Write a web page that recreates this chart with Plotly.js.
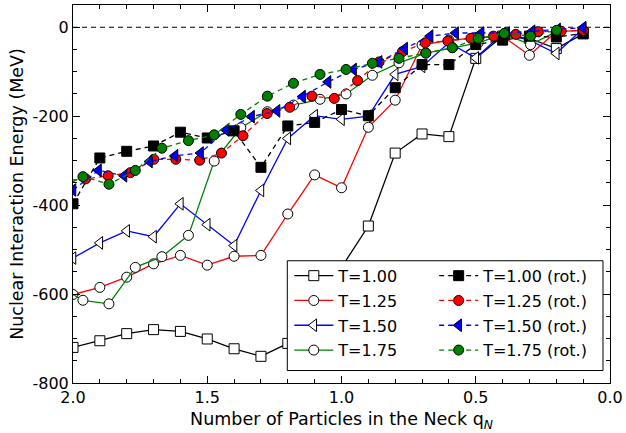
<!DOCTYPE html>
<html>
<head>
<meta charset="utf-8">
<script src="https://cdn.plot.ly/plotly-3.0.1.min.js"></script>
<style>html,body{margin:0;padding:0;background:#fff;}#chart{width:626px;height:433px;}</style>
</head>
<body>
<div id="chart"></div>
<script>
// ---- data ----
const qBase = [2.0,1.9,1.8,1.7,1.6,1.5,1.4,1.3,1.2,1.1,1.0,0.9,0.8,0.7,0.6,0.5,0.4,0.3,0.2,0.1];
const qGreen = [2.06,1.963,1.866,1.768,1.669,1.570,1.474,1.375,1.276,1.179,1.080,0.983,0.885,0.786,0.686,0.587,0.491,0.394,0.296,0.199];
const qRedRot = [2.037,1.953,1.869,1.786,1.699,1.617,1.528,1.447,1.367,1.277,1.193,1.110,1.027,0.940,0.860,0.773,0.688,0.604,0.518,0.434,0.351,0.267,0.182,0.099];
const qBlueRot = [2.0,1.905,1.81,1.715,1.62,1.525,1.43,1.335,1.24,1.145,1.05,0.955,0.86,0.765,0.67,0.575,0.48,0.385,0.29,0.195,0.1];

const t100    = [-720,-705,-689,-680,-684,-701,-723,-740,-711,-640,-540,-447,-283,-240,-246,-70,-20,-25,-48,-15];
const t100rot = [-397,-294,-279,-267,-236,-249,-233,-315,-222,-214,-185,-199,-136,-84,-84,-39,-29,-20,-22,-14];
const t125    = [-601,-585,-562,-532,-513,-535,-515,-513,-420,-332,-361,-225,-164,-40,-29,-24,-20,-63,-10,-7];
const t125rot = [-345,-341,-334,-327,-297,-297,-299,-283,-244,-194,-180,-155,-160,-120,-78,-55,-35,-31,-25,-20,-16,-10,-9,-7];
const t150    = [-519,-485,-458,-471,-397,-444,-491,-367,-250,-199,-207,-200,-106,-88,-35,-69,-14,-29,-59,-3];
const t150rot = [-366,-322,-334,-302,-289,-283,-231,-201,-188,-156,-123,-95,-78,-48,-20,-13,-13,-13,-9,-5,-1];
const t175    = [-580,-614,-622,-540,-516,-468,-301,-226,-190,-175,-162,-150,-108,-80,-58,-46,-35,-15,-39,-10];
const t175rot = [-365,-336,-353,-322,-272,-255,-242,-196,-155,-126,-106,-95,-81,-70,-58,-46,-25,-14,-20,-7];

const names = ['T=1.00','T=1.25','T=1.50','T=1.75'];
const namesRot = ['T=1.00 (rot.)','T=1.25 (rot.)','T=1.50 (rot.)','T=1.75 (rot.)'];
const yTickVals = [-800,-600,-400,-200,0];
const yTickText = ['-800','-600','-400','-200','0'];
const xTickVals = [2.0,1.5,1.0,0.5,0.0];
const xTickText = ['2.0','1.5','1.0','0.5','0.0'];

const FONT = 'DejaVu Sans, sans-serif';
const FS = 16;
const FT = 17.5;
const DASH = '5px,4px';

function solid(x, y, name, color, symbol, size, group) {
  return {x: x, y: y, name: name, type: 'scatter', mode: 'lines+markers', legend: 'legend', legendgroup: group,
    line: {color: color, width: 1.3},
    marker: {symbol: symbol, size: size, color: '#ffffff', line: {color: '#000000', width: 1}}};
}
function rot(x, y, name, color, symbol, size, group) {
  return {x: x, y: y, name: name, type: 'scatter', mode: 'lines+markers', legend: 'legend2', legendgroup: group,
    line: {color: color, width: 1.3, dash: DASH},
    marker: {symbol: symbol, size: size, color: color, line: {color: '#000000', width: 1}}};
}

const data = [
  solid(qBase, t100, names[0], '#000000', 'square', 10, 'a'),
  solid(qBase, t125, names[1], '#ff0000', 'circle', 10, 'b'),
  solid(qBase, t150, names[2], '#0000ff', 'triangle-left', 11, 'c'),
  solid(qGreen, t175, names[3], '#008000', 'circle', 10, 'd'),
  rot(qBase, t100rot, namesRot[0], '#000000', 'square', 10, 'e'),
  rot(qRedRot, t125rot, namesRot[1], '#ff0000', 'circle', 10, 'f'),
  rot(qBlueRot, t150rot, namesRot[2], '#0000ff', 'triangle-left', 11, 'g'),
  rot(qGreen, t175rot, namesRot[3], '#008000', 'circle', 10, 'h')
];

const L = 72.5, R = 610, T = 4.7, B = 383.5;
const W = R - L, H = B - T;
function px2x(p) { return (p - L) / W; }
function px2y(p) { return (B - p) / H; }

const layout = {
  width: 626, height: 433,
  margin: {l: L, r: 626 - R, t: T, b: 433 - B, pad: 0},
  paper_bgcolor: '#ffffff', plot_bgcolor: '#ffffff',
  font: {family: FONT, size: FS, color: '#000000'},
  showlegend: true,
  xaxis: {
    range: [2.0, 0.0], showgrid: false, zeroline: false,
    showline: true, linecolor: '#000000', linewidth: 1, mirror: 'allticks',
    ticks: 'inside', ticklen: 7, tickcolor: '#000000', tickwidth: 1,
    tickvals: xTickVals, ticktext: xTickText,
    minor: {dtick: 0.1, ticks: 'inside', ticklen: 4, tickcolor: '#000000', showgrid: false},
    tickfont: {family: FONT, size: FS},
    title: {text: 'Number of Particles in the Neck q<sub><i>N</i></sub>', font: {family: FONT, size: FT}, standoff: 6}
  },
  yaxis: {
    range: [-800, 50], showgrid: false, zeroline: false,
    showline: true, linecolor: '#000000', linewidth: 1, mirror: 'allticks',
    ticks: 'inside', ticklen: 7, tickcolor: '#000000', tickwidth: 1,
    tickvals: yTickVals, ticktext: yTickText,
    minor: {dtick: 50, ticks: 'inside', ticklen: 4, tickcolor: '#000000', showgrid: false},
    tickfont: {family: FONT, size: FS},
    title: {text: 'Nuclear Interaction Energy (MeV)', font: {family: FONT, size: FT}, standoff: 4}
  },
  legend: {
    x: px2x(289), y: px2y(259), xanchor: 'left', yanchor: 'top',
    bgcolor: 'rgba(0,0,0,0)', borderwidth: 0, traceorder: 'grouped', tracegroupgap: 1,
    font: {family: FONT, size: FS}, itemwidth: 39
  },
  legend2: {
    x: px2x(434), y: px2y(259), xanchor: 'left', yanchor: 'top',
    bgcolor: 'rgba(0,0,0,0)', borderwidth: 0, traceorder: 'grouped', tracegroupgap: 1,
    font: {family: FONT, size: FS}, itemwidth: 39
  },
  shapes: [
    {type: 'line', xref: 'paper', yref: 'y', x0: 0, x1: 1, y0: 0, y1: 0,
     line: {color: '#000000', width: 1.2, dash: '5px,4px'}, layer: 'below'},
    {type: 'rect', xref: 'paper', yref: 'paper', x0: px2x(287), x1: px2x(603), y0: px2y(371), y1: px2y(261),
     fillcolor: '#ffffff', line: {color: '#000000', width: 1}, layer: 'above'}
  ]
};

Plotly.newPlot('chart', data, layout, {displayModeBar: false, staticPlot: true});
</script>
</body>
</html>
